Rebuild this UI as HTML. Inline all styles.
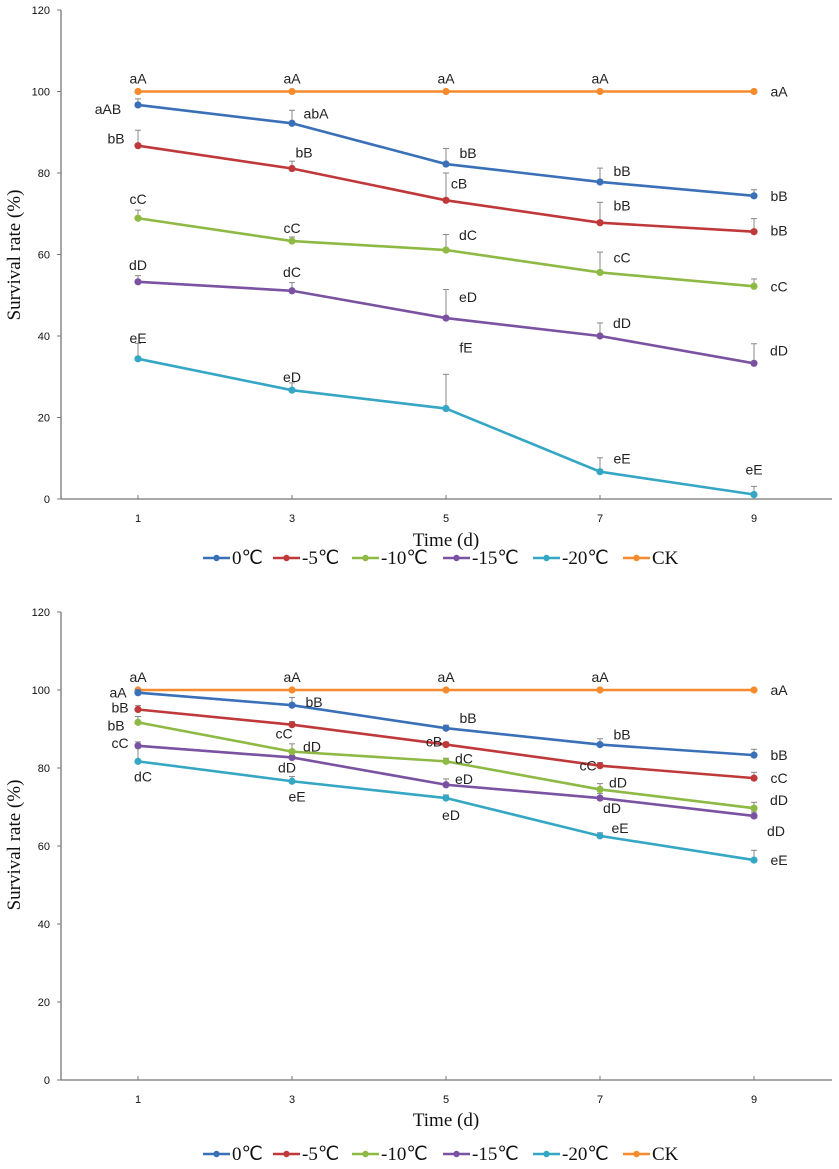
<!DOCTYPE html>
<html><head><meta charset="utf-8"><style>
body{margin:0;background:#fff}
svg{display:block}
text{font-family:"Liberation Sans",sans-serif}
.tick{font-size:11px;fill:#111}
.lbl{font-size:14px;fill:#222}
.title{font-family:"Liberation Serif",serif;font-size:19px;fill:#111}
.leg{font-family:"Liberation Serif",serif;font-size:19px;fill:#111}
</style></head><body>
<svg id="svg" width="839" height="1169"></svg>
<script>
const days=["1","3","5","7","9"];
const seriesNames=["0℃","-5℃","-10℃","-15℃","-20℃","CK"];
const colors=["#3a70b8","#c0393a","#8db944","#7a52a1","#35a7c4","#f58b2c"];
const yTicks=[0,20,40,60,80,100,120];
// Chart A
const a0=[96.7,92.2,82.2,77.8,74.4];
const a5=[86.7,81.1,73.3,67.8,65.6];
const a10=[68.9,63.3,61.1,55.6,52.2];
const a15=[53.3,51.1,44.4,40.0,33.3];
const a20=[34.4,26.7,22.2,6.7,1.1];
const aCK=[100,100,100,100,100];
const aErr0=[1.5,3.2,3.8,3.4,1.5];
const aErr5=[3.8,1.8,6.7,5.0,3.2];
const aErr10=[2.0,1.0,3.8,5.0,1.8];
const aErr15=[1.5,2.0,7.0,3.2,4.8];
const aErr20=[3.8,1.8,8.4,3.4,2.0];
const aLab0=["aAB","abA","bB","bB","bB"];
const aLab5=["bB","bB","cB","bB","bB"];
const aLab10=["cC","cC","dC","cC","cC"];
const aLab15=["dD","dC","eD","dD","dD"];
const aLab20=["eE","eD","fE","eE","eE"];
const aLabCK=["aA","aA","aA","aA","aA"];
// Chart B
const b0=[99.3,96.1,90.2,86.0,83.3];
const b5=[95.0,91.1,86.0,80.6,77.4];
const b10=[91.7,84.2,81.7,74.5,69.7];
const b15=[85.7,82.7,75.7,72.3,67.7];
const b20=[81.7,76.6,72.3,62.6,56.4];
const bCK=[100,100,100,100,100];
const bErr0=[0.8,2.0,0.8,1.5,1.5];
const bErr5=[1.0,0.8,0.6,0.8,1.5];
const bErr10=[1.5,2.0,0.8,1.5,1.5];
const bErr15=[1.0,1.5,1.5,1.2,1.0];
const bErr20=[3.5,1.2,0.8,0.8,2.5];
const bLab0=["aA","bB","bB","bB","bB"];
const bLab5=["bB","cC","cB","cC","cC"];
const bLab10=["bB","dD","dC","dD","dD"];
const bLab15=["cC","dD","eD","dD","dD"];
const bLab20=["dC","eE","eD","eE","eE"];
const bLabCK=["aA","aA","aA","aA","aA"];

// label offsets (styling only)
const aOff=[
 [[-30,9],[24,-5],[22,-6],[22,-6],[25,5]],
 [[-22,-2],[12,-11],[13,-12],[22,-12],[25,4]],
 [[0,-14],[0,-8],[22,-10],[22,-10],[25,5]],
 [[0,-12],[0,-14],[22,-16],[22,-8],[25,-8]],
 [[0,-16],[0,-8],[20,-56],[22,-8],[0,-20]],
 [[0,-8],[0,-8],[0,-8],[0,-8],[25,5]]];
const bOff=[
 [[-20,5],[22,2],[22,-5],[22,-5],[25,5]],
 [[-18,3],[-8,14],[-12,2],[-12,5],[25,5]],
 [[-22,8],[20,0],[18,2],[18,-2],[25,-3]],
 [[-18,2],[-5,15],[18,-1],[12,15],[22,20]],
 [[5,20],[5,20],[5,22],[20,-3],[25,5]],
 [[0,-8],[0,-8],[0,-8],[0,-8],[25,5]]];

const NS="http://www.w3.org/2000/svg";
const svg=document.getElementById('svg');
function mk(tag,attrs,parent){const e=document.createElementNS(NS,tag);for(const k in attrs)e.setAttribute(k,attrs[k]);(parent||svg).appendChild(e);return e;}

function chart(g0,y0,yScale,data,errs,labs,offs,xAxisY,titleY,legY,titleYaxis){
  const x=i=>138+154*i;
  const y=v=>y0-v*yScale;
  const g=mk('g',{});
  
  
  // axes
  const ya=mk('line',{x1:61,y1:y(120),x2:61,y2:y(0),stroke:'#777','stroke-width':1.3},g);
  
  const xa=mk('line',{x1:61,y1:y(0),x2:832,y2:y(0),stroke:'#777','stroke-width':1.3},g);
  
  yTicks.forEach(t=>{
    mk('line',{x1:57,x2:61,y1:y(t),y2:y(t),stroke:'#777'},g);
    const tx=mk('text',{x:50,y:y(t)+4,'text-anchor':'end',class:'tick'},g);tx.textContent=t;
    
  });
  days.forEach((d,i)=>{
    mk('line',{x1:x(i),x2:x(i),y1:y(0),y2:y(0)-4,stroke:'#777'},g);
    const tx=mk('text',{x:x(i),y:xAxisY,'text-anchor':'middle',class:'tick'},g);tx.textContent=d;
    
  });
  const yt=mk('text',{x:0,y:0,transform:`translate(${titleYaxis[0]},${titleYaxis[1]}) rotate(-90)`,'text-anchor':'middle',class:'title'},g);
  yt.textContent='Survival rate (%)';
  
  const xt=mk('text',{x:446,y:titleY,'text-anchor':'middle',class:'title'},g);
  xt.textContent='Time (d)';
  
  // series
  for(let s=5;s>=0;s--){
    const vals=data[s];
    const sg=mk('g',{},g);
    
    
    vals.forEach((v,i)=>{
      if(errs[s]){const e=errs[s][i];
        mk('line',{x1:x(i),x2:x(i),y1:y(v),y2:y(v+e),stroke:'#888','stroke-width':1},sg);
        mk('line',{x1:x(i)-3,x2:x(i)+3,y1:y(v+e),y2:y(v+e),stroke:'#888','stroke-width':1},sg);}
    });
    const pl=mk('polyline',{points:vals.map((v,i)=>x(i)+','+y(v)).join(' '),fill:'none',stroke:colors[s],'stroke-width':2.6},sg);
    
    vals.forEach((v,i)=>{
      const c=mk('circle',{cx:x(i),cy:y(v),r:3.6,fill:colors[s]},sg);
      
      const t=mk('text',{x:x(i)+offs[s][i][0],y:y(v)+offs[s][i][1],'text-anchor':'middle',class:'lbl'},sg);
      t.textContent=labs[s][i];
      
    });
  }
  // legend
  const lg=mk('g',{},g);
  
  const xs=[203,273,352,443,533,623];
  seriesNames.forEach((n,i)=>{
    const e=mk('g',{},lg);
    
    mk('line',{x1:xs[i],x2:xs[i]+27,y1:legY-6,y2:legY-6,stroke:colors[i],'stroke-width':2.6},e);
    mk('circle',{cx:xs[i]+13.5,cy:legY-6,r:3.2,fill:colors[i]},e);
    const t=mk('text',{x:xs[i]+29,y:legY,class:'leg'},e);t.textContent=n;
  });
}
chart('top',499,4.075,[a0,a5,a10,a15,a20,aCK],[aErr0,aErr5,aErr10,aErr15,aErr20,null],
  [aLab0,aLab5,aLab10,aLab15,aLab20,aLabCK],aOff,522,546,564,[20,255]);
chart('bottom',1080,3.9,[b0,b5,b10,b15,b20,bCK],[bErr0,bErr5,bErr10,bErr15,bErr20,null],
  [bLab0,bLab5,bLab10,bLab15,bLab20,bLabCK],bOff,1103,1126,1160,[20,845]);
</script>
</body></html>
